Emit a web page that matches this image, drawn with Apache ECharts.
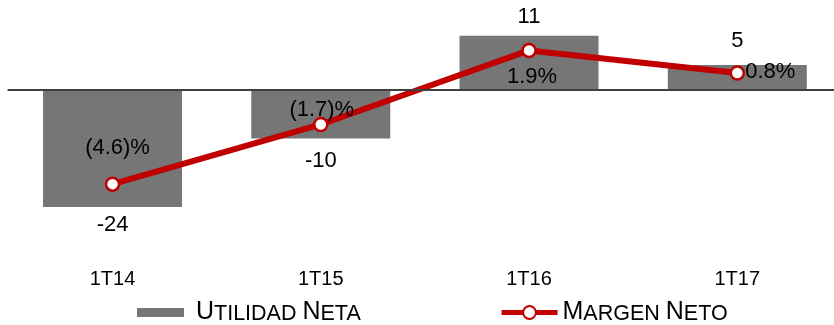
<!DOCTYPE html>
<html>
<head>
<meta charset="utf-8">
<script src="https://cdn.jsdelivr.net/npm/echarts@6/dist/echarts.min.js"></script>
<style>
  html, body { margin: 0; padding: 0; background: #fff; overflow: hidden; }
  #chart { width: 842px; height: 325px; }
</style>
</head>
<body>
<div id="chart"></div>
<script>
// Quarterly net income (bars) and net margin (line)
const quarters = ['1T14', '1T15', '1T16', '1T17'];
const netIncome = [-24, -10, 11, 5];
const netMargin = [-4.6, -1.7, 1.9, 0.8];
const seriesNames = ['Utilidad Neta', 'Margen Neto'];

const FONT = '"Liberation Sans", Arial, Helvetica, sans-serif';
const BAR_COLOR = '#767676';
const LINE_COLOR = '#C00000';
const TEXT_COLOR = '#000';

// label placement around each bar end / line point
const incomeLabelGap = [7, 11, 8, 13];
const marginLabelOffset = [[5, -36], [1, -15], [3, 27], [33, -1]];

// "Utilidad Neta" -> small caps rich text
function smallCaps(name) {
  return name.split(' ')
    .map(w => '{b|' + w[0].toUpperCase() + '}{s|' + w.slice(1).toUpperCase() + '}')
    .join('{s| }');
}
function fmtPct(v) {
  return v < 0 ? '(' + Math.abs(v).toFixed(1) + ')%' : v.toFixed(1) + '%';
}

const legendRich = {
  b: { fontSize: 25, fontFamily: FONT, color: TEXT_COLOR, verticalAlign: 'bottom' },
  s: { fontSize: 21.5, fontFamily: FONT, color: TEXT_COLOR, verticalAlign: 'bottom' }
};

const chart = echarts.init(document.getElementById('chart'), null, { renderer: 'canvas' });

chart.setOption({
  animation: false,
  backgroundColor: '#fff',
  grid: { left: 8.4, top: 0, width: 833, height: 250, containLabel: false },
  xAxis: [
    {
      type: 'category',
      data: quarters,
      position: 'bottom',
      axisLine: { show: false, onZero: false },
      axisTick: { show: false },
      splitLine: { show: false },
      axisLabel: { fontSize: 20, fontFamily: FONT, color: TEXT_COLOR, margin: 19 }
    },
    {
      // baseline drawn at zero
      type: 'category',
      data: quarters,
      position: 'top',
      z: 5,
      axisLine: { show: true, onZero: true, onZeroAxisIndex: 0, lineStyle: { color: '#404040', width: 2 } },
      axisTick: { show: false },
      axisLabel: { show: false },
      splitLine: { show: false }
    }
  ],
  yAxis: [
    { type: 'value', min: -32.8, max: 18.3, show: false },
    { type: 'value', min: -7.8, max: 4.35, show: false }
  ],
  legend: [
    {
      data: [seriesNames[0]],
      left: 137,
      top: 300,
      padding: 0,
      itemWidth: 47,
      itemHeight: 9,
      icon: 'rect',
      formatter: smallCaps,
      textStyle: { rich: legendRich, padding: [0, 0, 0, 7] }
    },
    {
      data: [seriesNames[1]],
      left: 499,
      top: 300,
      padding: 0,
      itemWidth: 56,
      itemHeight: 16,
      formatter: smallCaps,
      lineStyle: { width: 5 },
      textStyle: { rich: legendRich }
    }
  ],
  series: [
    {
      name: seriesNames[0],
      type: 'bar',
      xAxisIndex: 0,
      yAxisIndex: 0,
      barWidth: 139,
      itemStyle: { color: BAR_COLOR },
      label: {
        show: true,
        fontSize: 22,
        fontFamily: FONT,
        color: TEXT_COLOR,
        formatter: '{c}'
      },
      data: netIncome.map((v, i) => ({
        value: v,
        label: { position: v < 0 ? 'bottom' : 'top', distance: incomeLabelGap[i] }
      }))
    },
    {
      name: seriesNames[1],
      type: 'line',
      xAxisIndex: 0,
      yAxisIndex: 1,
      symbol: 'circle',
      symbolSize: 13,
      showAllSymbol: true,
      z: 4,
      lineStyle: { color: LINE_COLOR, width: 6 },
      itemStyle: { color: '#fff', borderColor: LINE_COLOR, borderWidth: 2.5 },
      label: {
        show: true,
        position: 'inside',
        fontSize: 22,
        fontFamily: FONT,
        color: TEXT_COLOR,
        formatter: p => fmtPct(p.value)
      },
      data: netMargin.map((v, i) => ({
        value: v,
        label: { offset: marginLabelOffset[i] }
      }))
    }
  ]
});
</script>
</body>
</html>
